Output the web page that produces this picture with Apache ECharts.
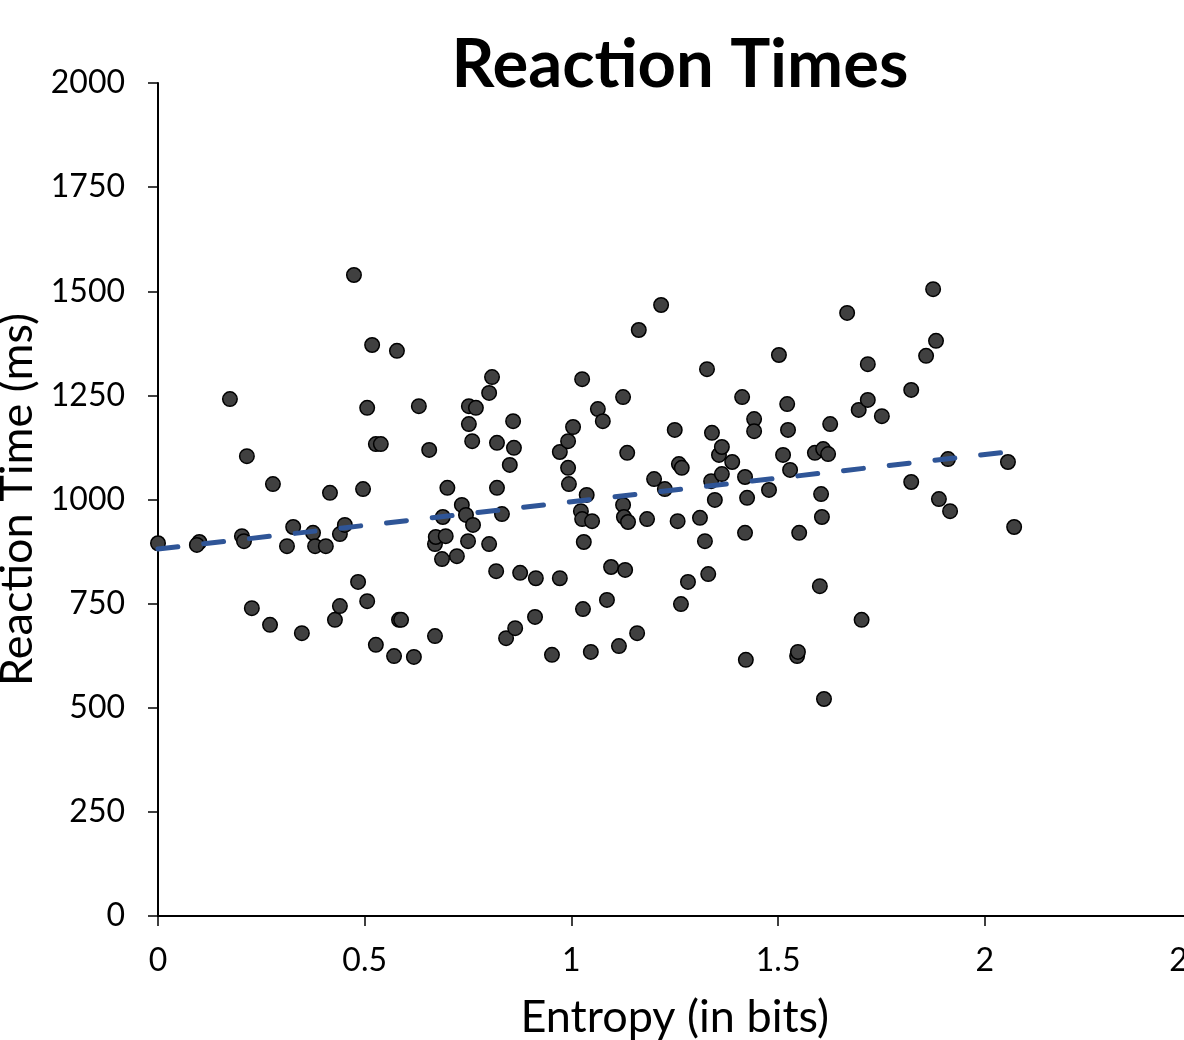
<!DOCTYPE html>
<html>
<head>
<meta charset="utf-8">
<script src="https://cdn.jsdelivr.net/npm/echarts@6/dist/echarts.min.js"></script>
<style>
html,body{margin:0;padding:0;background:#fff;}
#chart{width:1184px;height:1040px;}
</style>
</head>
<body>
<div id="chart"></div>
<script>
// Entropy (bits) values
const entropy = [
0, 0.10, 0.094, 0.174, 0.215, 0.203, 0.208, 0.227, 0.271, 0.278, 0.312, 0.327, 0.348, 0.375, 0.380, 0.406,
0.416, 0.428, 0.44, 0.44, 0.452, 0.474, 0.484, 0.496, 0.506, 0.506, 0.518, 0.527, 0.527, 0.539, 0.571,
0.578, 0.583, 0.588, 0.619, 0.631, 0.656, 0.67, 0.67, 0.672, 0.696, 0.689, 0.687, 0.70, 0.723, 0.735,
0.745, 0.75, 0.752, 0.752, 0.76, 0.762, 0.769, 0.801, 0.801, 0.808, 0.818, 0.82, 0.82, 0.832, 0.842,
0.851, 0.859, 0.861, 0.864, 0.876, 0.912, 0.914, 0.953, 0.972, 0.972, 0.992, 0.992, 0.994, 1.004, 1.026,
1.023, 1.026, 1.028, 1.03, 1.037, 1.047, 1.05, 1.064, 1.076, 1.086, 1.096, 1.115, 1.125, 1.125, 1.127,
1.13, 1.135, 1.137, 1.159, 1.163, 1.183, 1.2, 1.217, 1.226, 1.25, 1.257, 1.26, 1.267, 1.265, 1.282,
1.311, 1.328, 1.323, 1.331, 1.338, 1.34, 1.347, 1.357, 1.364, 1.364, 1.389, 1.413, 1.42, 1.42, 1.425,
1.422, 1.442, 1.442, 1.478, 1.502, 1.512, 1.522, 1.524, 1.529, 1.546, 1.548, 1.551, 1.589, 1.601, 1.604,
1.606, 1.609, 1.611, 1.621, 1.626, 1.667, 1.695, 1.702, 1.717, 1.717, 1.751, 1.822, 1.822, 1.858, 1.875,
1.882, 1.889, 1.911, 1.916, 2.056, 2.071
];
// Reaction time (ms) values
const reactionTime = [
895, 898, 891, 1241, 1104, 912, 900, 739, 699, 1037, 888, 934, 679, 920, 888, 888,
1016, 711, 744, 917, 939, 1539, 802, 1025, 756, 1220, 1371, 651, 1133, 1133, 624,
1357, 711, 711, 622, 1224, 1119, 672, 893, 910, 912, 958, 857, 1028, 864, 987,
963, 900, 1224, 1181, 1140, 939, 1220, 1256, 893, 1294, 828, 1136, 1028, 965, 667,
1083, 1188, 1124, 691, 824, 718, 811, 627, 811, 1114, 1140, 1076, 1037, 1174, 1289,
972, 953, 737, 898, 1011, 634, 948, 1217, 1188, 759, 838, 648, 987, 1246, 958,
831, 1112, 946, 679, 1407, 953, 1049, 1467, 1025, 1167, 948, 1085, 1076, 749, 802,
956, 1313, 900, 821, 1044, 1160, 999, 1107, 1126, 1061, 1090, 1246, 1054, 920, 1004,
615, 1193, 1164, 1023, 1347, 1107, 1229, 1167, 1071, 624, 634, 920, 1112, 792, 1013,
958, 1121, 521, 1109, 1181, 1448, 1215, 711, 1325, 1239, 1200, 1263, 1042, 1345, 1505,
1381, 1001, 1097, 972, 1090, 934
];
// Trendline endpoints
const trendX = [0, 2.07];
const trendY = [881, 1116];
const xTicks = [0, 0.5, 1, 1.5, 2, 2.5];
const yTicks = [0, 250, 500, 750, 1000, 1250, 1500, 1750, 2000];

const chart = echarts.init(document.getElementById('chart'));
const font = 'Lato, "Open Sans", sans-serif';
const points = entropy.map((x, i) => [x, reactionTime[i]]);
const trend = trendX.map((x, i) => [x, trendY[i]]);

chart.setOption({
  animation: false,
  backgroundColor: '#ffffff',
  graphic: [{
    type: 'text', x: 680, y: 32,
    style: { text: 'Reaction Times', align: 'center', verticalAlign: 'top', fill: '#000', font: 'bold 67px ' + font }
  }],
  grid: { left: 158, top: 83, bottom: 124, right: -7.5, containLabel: false, outerBoundsMode: 'none' },
  xAxis: {
    type: 'value', min: xTicks[0], max: xTicks[xTicks.length - 1], interval: 0.5,
    name: 'Entropy (in bits)', nameLocation: 'middle', nameGap: 79,
    nameTextStyle: { fontFamily: font, fontSize: 45, color: '#000' },
    axisLine: { show: true, onZero: false, lineStyle: { color: '#000', width: 2 } },
    axisTick: { show: true, inside: false, length: 10, lineStyle: { color: '#000', width: 1.5 } },
    axisLabel: { fontFamily: font, fontSize: 32, color: '#000', margin: 29, formatter: v => String(v) },
    splitLine: { show: false }
  },
  yAxis: {
    type: 'value', min: yTicks[0], max: yTicks[yTicks.length - 1], interval: 250,
    name: 'Reaction Time (ms)', nameLocation: 'middle', nameGap: 116,
    nameTextStyle: { fontFamily: font, fontSize: 45, color: '#000' },
    axisLine: { show: true, lineStyle: { color: '#000', width: 2 } },
    axisTick: { show: true, inside: false, length: 10, lineStyle: { color: '#000', width: 1.5 } },
    axisLabel: { fontFamily: font, fontSize: 32, color: '#000', margin: 33, formatter: v => String(v) },
    splitLine: { show: false }
  },
  series: [{
    type: 'scatter', data: points, symbol: 'circle', symbolSize: 14.5, z: 2,
    itemStyle: { color: '#404040', borderColor: '#000', borderWidth: 1.5, opacity: 1 }
  }, {
    type: 'line', data: trend, symbol: 'none', z: 3,
    lineStyle: { color: '#2F5597', width: 5, type: [20, 26], cap: 'round' }
  }]
});
</script>
</body>
</html>
